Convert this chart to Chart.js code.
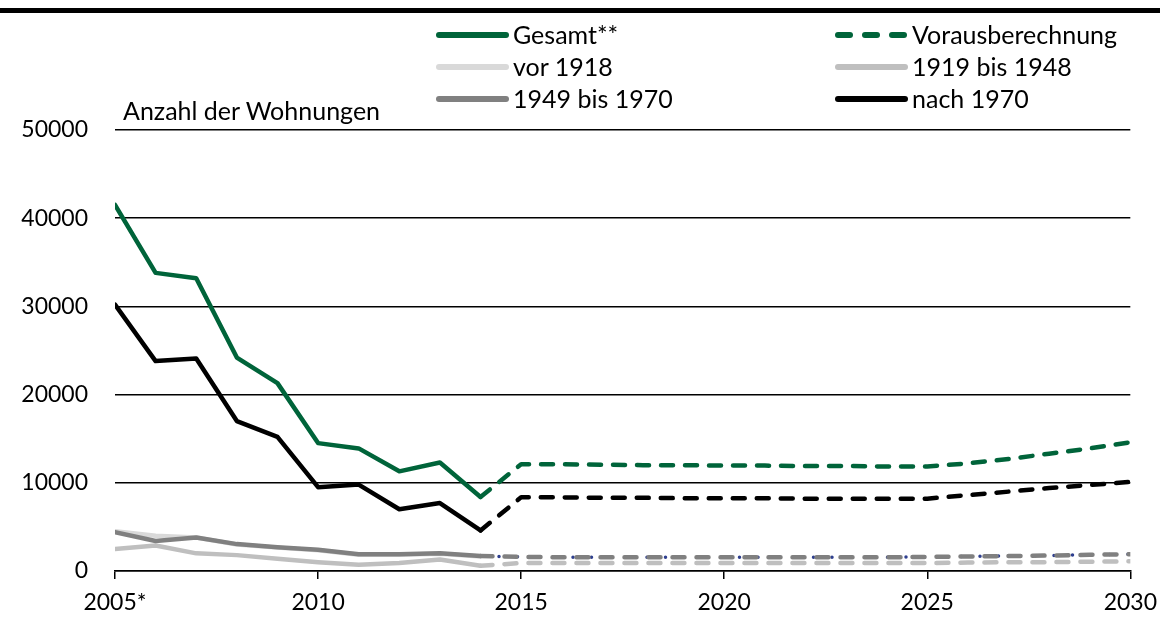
<!DOCTYPE html>
<html>
<head>
<meta charset="utf-8">
<script src="https://cdn.jsdelivr.net/npm/chart.js@4.4.0/dist/chart.umd.min.js"></script>
<style>
  html, body { margin: 0; padding: 0; background: #fff; }
  #wrap { position: relative; width: 1167px; height: 618px; font-family: Lato, "Noto Sans", sans-serif; color: #000; }
  #topbar { position: absolute; left: 0; top: 8px; width: 1160px; height: 5px; background: #000; }
  #title { position: absolute; left: 123px; top: 95px; font-size: 25px; line-height: 30px; white-space: nowrap; }
  .lg { position: absolute; font-size: 25px; line-height: 30px; white-space: nowrap; }
  .sw { position: absolute; height: 5px; border-radius: 3px; }
  canvas { position: absolute; left: 0; top: 0; }
</style>
</head>
<body>
<div id="wrap">
  <canvas id="c" width="1167" height="618"></canvas>
  <div id="topbar"></div>
  <div id="title">Anzahl der Wohnungen</div>
  <div id="legend"></div>
</div>
<script>
const years = [2005,2006,2007,2008,2009,2010,2011,2012,2013,2014,2015,2016,2017,2018,2019,2020,2021,2022,2023,2024,2025,2026,2027,2028,2029,2030];
const gesamt   = [41500,33800,33200,24200,21300,14500,13900,11300,12300,8400,12100,12100,12050,12000,12000,11950,11950,11900,11900,11850,11850,12200,12700,13300,13900,14600];
const nach1970 = [30200,23800,24100,17000,15200,9500,9800,7000,7700,4600,8350,8350,8300,8300,8250,8250,8250,8200,8200,8200,8200,8600,9000,9400,9750,10100];
const bis1970  = [4400,3400,3800,3050,2700,2400,1900,1900,2000,1700,1600,1550,1550,1550,1550,1550,1550,1550,1550,1550,1600,1650,1700,1750,1850,1900];
const bis1948  = [2500,2900,2000,1800,1400,1000,700,900,1300,600,900,900,900,900,900,900,900,900,900,900,900,950,1000,1000,1050,1100];
const vor1918  = [4500,4000,3800,3000,2650,2350,1850,1850,1950,1650,null,null,null,null,null,null,null,null,null,null,null,null,null,null,null,null];
const xTicks = [2005,2010,2015,2020,2025,2030];
const xTickLabels = ['2005*','2010','2015','2020','2025','2030'];
const yTicks = [0,10000,20000,30000,40000,50000];
const projStart = 2014;

const GREEN = '#00643a';
const legendItems = [
  {label:'Gesamt**', color:GREEN, dash:false, col:0, row:0},
  {label:'Vorausberechnung', color:GREEN, dash:true, col:1, row:0},
  {label:'vor 1918', color:'#d9d9d9', dash:false, col:0, row:1},
  {label:'1919 bis 1948', color:'#bfbfbf', dash:false, col:1, row:1},
  {label:'1949 bis 1970', color:'#808080', dash:false, col:0, row:2},
  {label:'nach 1970', color:'#000000', dash:false, col:1, row:2}
];

// HTML legend
const lg = document.getElementById('legend');
const colX = [436, 835], rowY = [35, 67, 99];
legendItems.forEach(it => {
  const x = colX[it.col], y = rowY[it.row];
  if (it.dash) {
    for (let k = 0; k < 3; k++) {
      const d = document.createElement('div');
      d.className = 'sw';
      d.style.left = (x + k * 27) + 'px'; d.style.top = (y - 3) + 'px';
      d.style.width = '18px'; d.style.height = '6px'; d.style.background = it.color;
      lg.appendChild(d);
    }
  } else {
    const d = document.createElement('div');
    d.className = 'sw';
    d.style.left = x + 'px'; d.style.top = (y - 3) + 'px';
    d.style.width = '73px'; d.style.height = '6px'; d.style.background = it.color;
    lg.appendChild(d);
  }
  const t = document.createElement('div');
  t.className = 'lg';
  t.textContent = it.label;
  t.style.left = (x + 77) + 'px'; t.style.top = (y - 16) + 'px';
  lg.appendChild(t);
});

function pts(arr) { return years.map((yr, i) => ({x: yr, y: arr[i]})); }
function projPts(arr) { return years.map((yr, i) => ({x: yr, y: yr >= projStart ? arr[i] : null})); }
const dashSeg = { borderDash: ctx => (ctx.p0.parsed.x >= projStart ? [12, 12] : undefined) };

function ds(data, color, order, extra) {
  return Object.assign({
    data: data, borderColor: color, backgroundColor: color, borderWidth: 4.5,
    pointRadius: 0, pointHoverRadius: 0, fill: false, tension: 0,
    borderCapStyle: 'round', borderJoinStyle: 'round', spanGaps: false,
    segment: dashSeg, order: order
  }, extra || {});
}

new Chart(document.getElementById('c'), {
  type: 'line',
  data: {
    datasets: [
      ds(pts(gesamt), GREEN, 1),
      ds(pts(nach1970), '#000000', 2),
      ds(pts(bis1970), '#808080', 3),
      ds(projPts(bis1970), '#2e3f8f', 6, {borderWidth: 3.5, segment: undefined, borderDash: [0, 18.5]}),
      ds(pts(bis1948), '#bfbfbf', 4),
      ds(pts(vor1918), '#d9d9d9', 5)
    ]
  },
  options: {
    responsive: false, animation: false, events: [],
    layout: { padding: { left: 0, right: 34, top: 130, bottom: 0 } },
    plugins: { legend: { display: false }, tooltip: { enabled: false } },
    scales: {
      x: {
        type: 'linear', min: 2005, max: 2030,
        afterBuildTicks: s => { s.ticks = xTicks.map(v => ({value: v})); },
        afterFit: s => { s.height = 47; },
        ticks: {
          autoSkip: false, maxRotation: 0, padding: 10, color: '#000',
          font: { family: 'Lato', size: 23 },
          callback: (v) => { const i = xTicks.indexOf(v); return i >= 0 ? xTickLabels[i] : ''; }
        },
        grid: { drawOnChartArea: false, drawTicks: true, tickLength: 8, color: '#000', lineWidth: 1.5 },
        border: { display: true, color: '#000', width: 1.5 }
      },
      y: {
        min: 0, max: 50000,
        afterBuildTicks: s => { s.ticks = yTicks.map(v => ({value: v})); },
        afterFit: s => { s.width = 115; },
        ticks: { padding: 27, color: '#000', font: { family: 'Lato', size: 23 }, callback: v => String(v) },
        grid: { drawTicks: false, color: '#000', lineWidth: 1.5 },
        border: { display: false }
      }
    }
  }
});
</script>
</body>
</html>
